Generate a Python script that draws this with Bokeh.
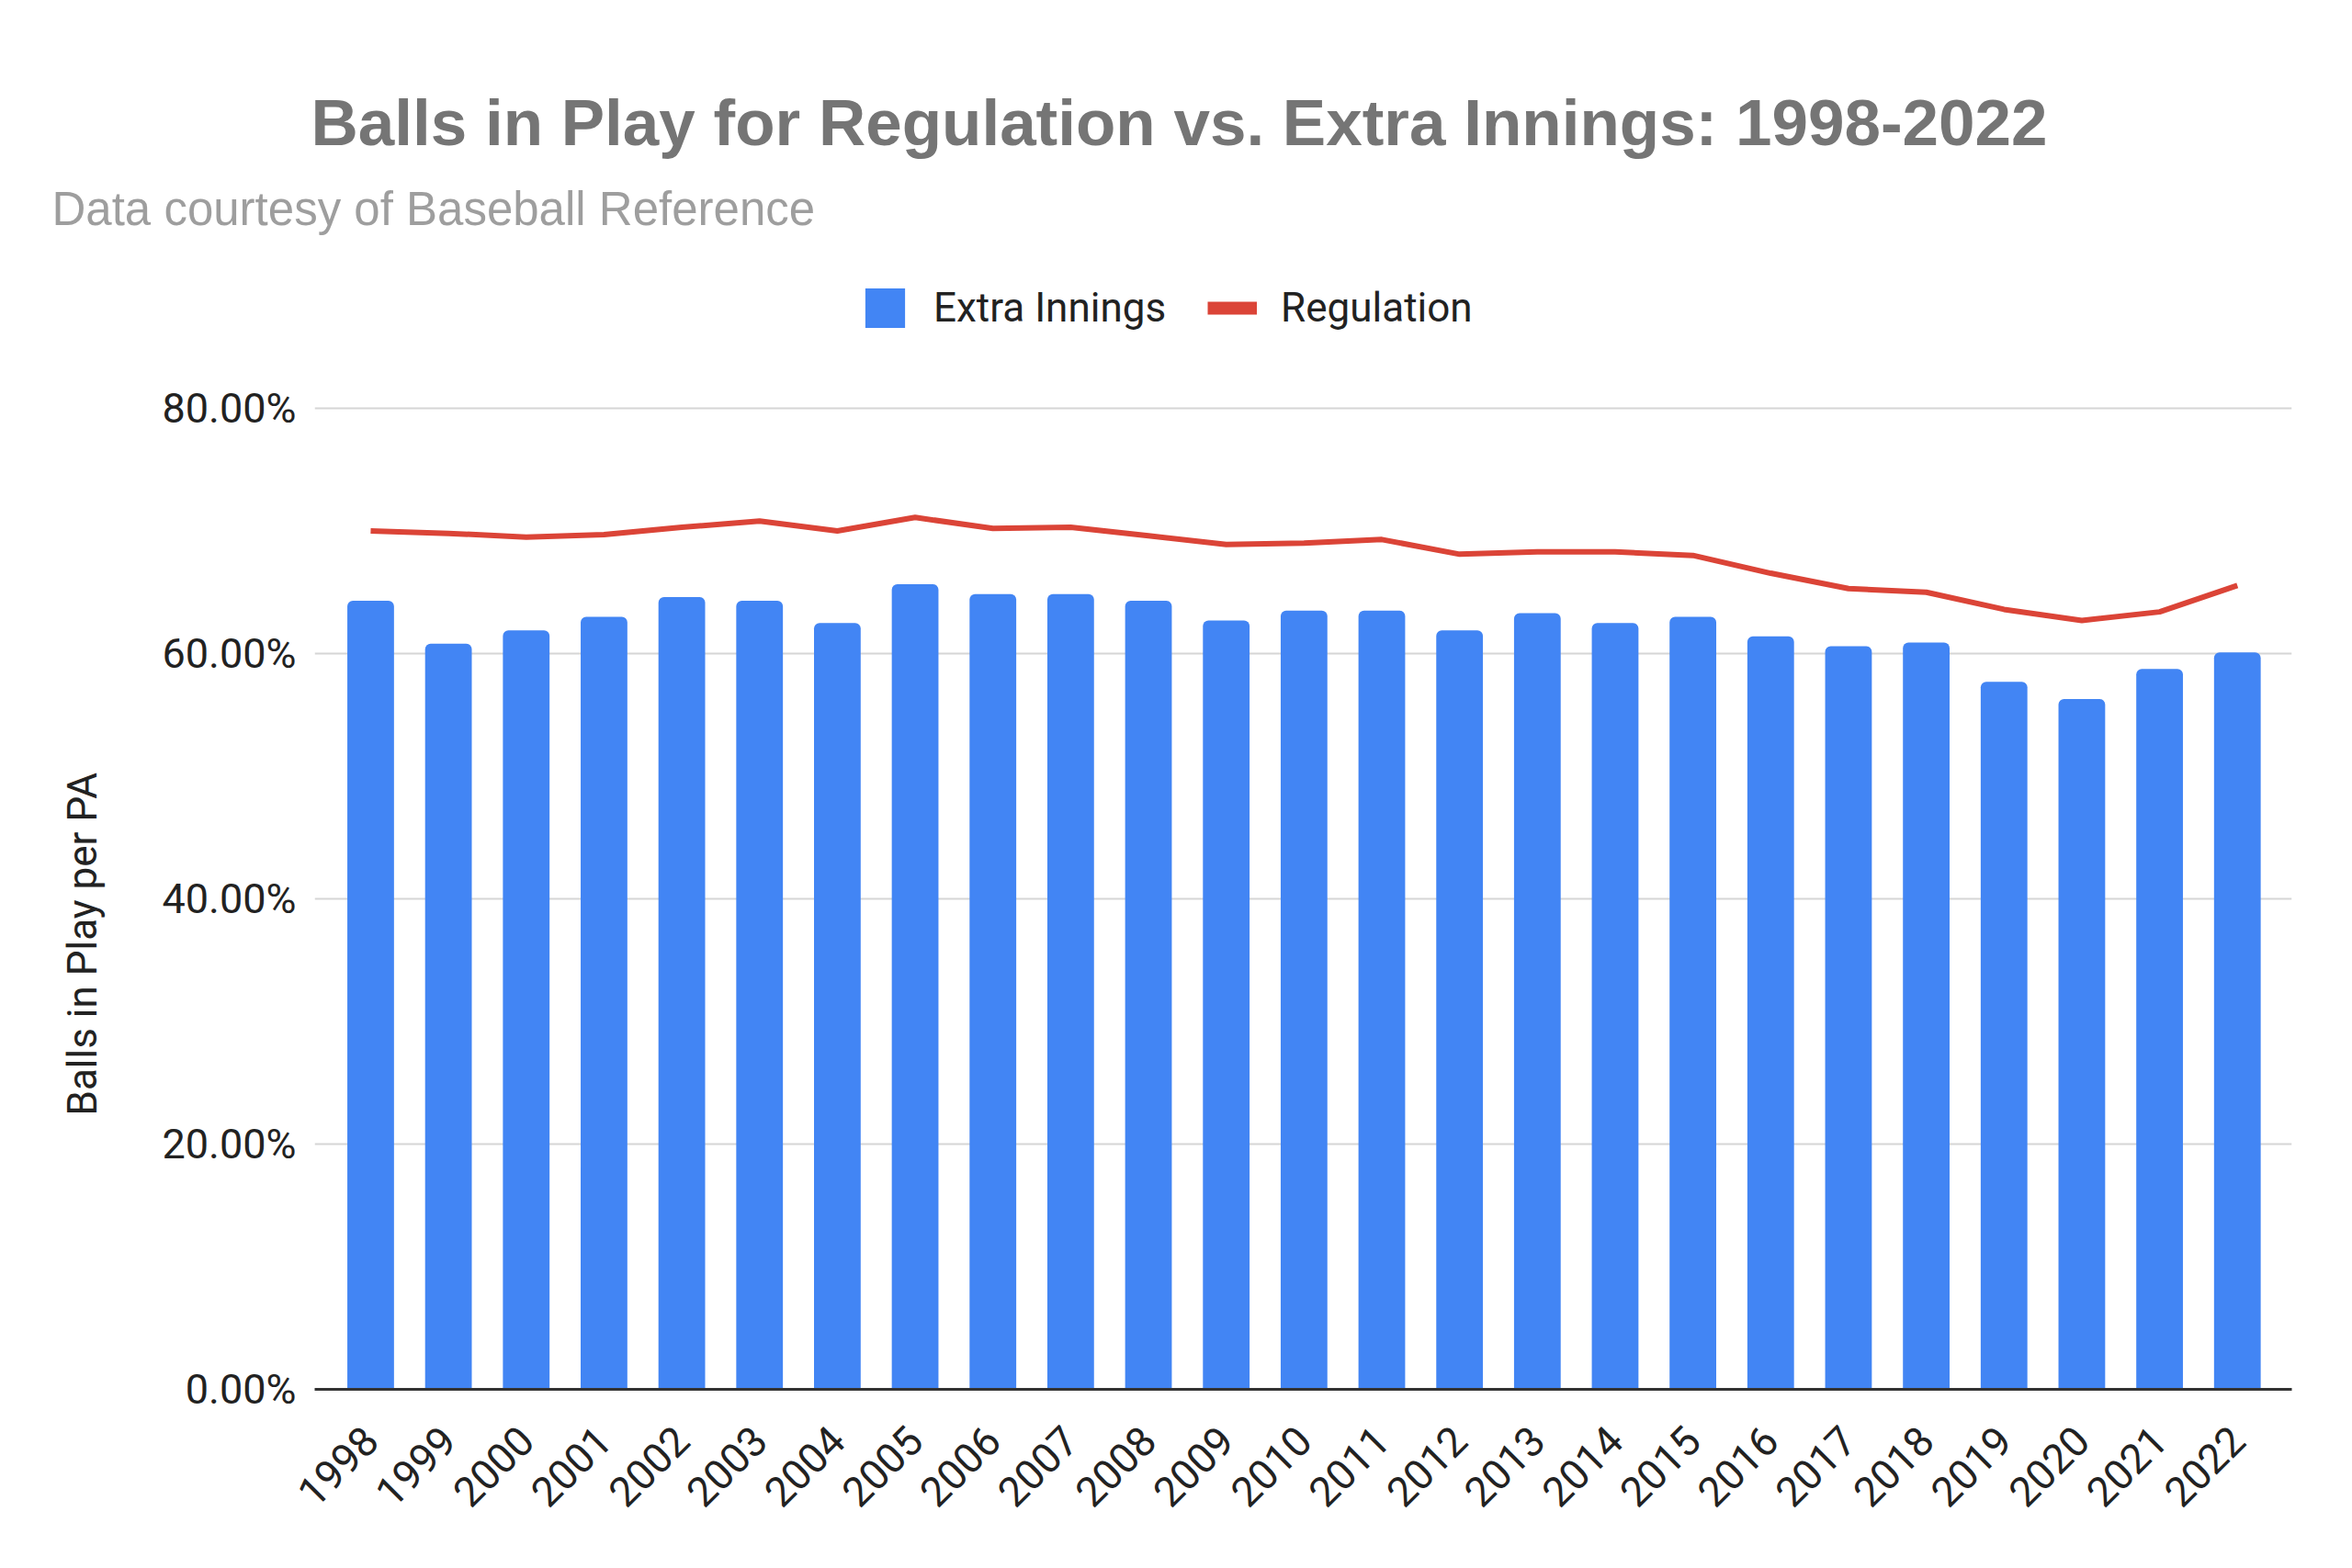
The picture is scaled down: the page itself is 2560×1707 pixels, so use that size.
import numpy as np
from bokeh.plotting import figure
from bokeh.models import (Range1d, FixedTicker, NumeralTickFormatter, Title,
                          Legend, LegendItem, ColumnDataSource)
from bokeh.embed import file_html
from bokeh.resources import INLINE

# data (percent of PAs ending in a ball in play)
years = list(range(1998, 2023))
extra_innings = [64.3, 60.8, 61.9, 63.0, 64.6, 64.3, 62.5, 65.65, 64.85, 64.85,
                 64.3, 62.7, 63.5, 63.5, 61.9, 63.3, 62.5, 63.0, 61.4, 60.6,
                 60.9, 57.7, 56.3, 58.75, 60.1]
regulation = [70.0, 69.8, 69.5, 69.7, 70.3, 70.8, 70.0, 71.1, 70.2, 70.3,
              69.6, 68.9, 69.0, 69.3, 68.1, 68.3, 68.3, 68.0, 66.55, 65.3,
              65.0, 63.6, 62.7, 63.4, 65.55]
y_ticks = [0.0, 0.2, 0.4, 0.6, 0.8]

src = ColumnDataSource(data=dict(
    year=years,
    extra=np.array(extra_innings) / 100,
    reg=np.array(regulation) / 100,
))

W, H = 2544, 1691
FL, FR, FT, FB = 342, 2494, 262, 1512   # frame edges in canvas px
TOP80 = 444                              # where the 80% grid line sits
y_end = 0.8 * (FB - FT) / (FB - TOP80)   # frame reaches up to hold the legend

p = figure(width=W, height=H, output_backend="svg", toolbar_location=None,
           x_range=Range1d(years[0] - 0.72, years[-1] + 0.7),
           y_range=Range1d(0, y_end),
           min_border_left=FL, min_border_right=W - FR,
           min_border_top=FT, min_border_bottom=H - FB)
p.outline_line_color = None
p.background_fill_color = "white"

bars = p.vbar(x="year", top="extra", width=0.6, bottom=0, source=src,
              fill_color="#4285F4", line_color=None,
              border_radius=(6, 6, 0, 0))
line = p.line(x="year", y="reg", source=src, line_color="#DB4437",
              line_width=6, line_join="round")
# legend swatch for the line (short thick bar, as in the original)
proxy = p.line(x=[years[0]], y=[np.nan], line_color="#DB4437", line_width=14)

# axes
p.xaxis.ticker = FixedTicker(ticks=years)
p.xaxis.major_label_orientation = np.pi / 4
p.xaxis.major_label_text_font = "Roboto"
p.xaxis.major_label_text_font_size = "45px"
p.xaxis.major_label_text_color = "#222222"
p.xaxis.major_label_standoff = 42
p.xaxis.major_tick_line_color = None
p.xaxis.minor_tick_line_color = None
p.xaxis.axis_line_color = "#333333"
p.xaxis.axis_line_width = 3

p.yaxis.ticker = FixedTicker(ticks=y_ticks)
p.yaxis.formatter = NumeralTickFormatter(format="0.00%")
p.yaxis.major_label_text_font = "Roboto"
p.yaxis.major_label_text_font_size = "45px"
p.yaxis.major_label_text_color = "#222222"
p.yaxis.major_label_standoff = 20
p.yaxis.major_tick_out = 0
p.yaxis.major_tick_line_color = None
p.yaxis.minor_tick_line_color = None
p.yaxis.axis_line_color = None

p.xgrid.grid_line_color = None
p.ygrid.grid_line_color = "#d6d6d6"
p.ygrid.grid_line_width = 2

# y axis title, placed outside the tick labels
p.add_layout(Title(text="Balls in Play per PA", align="left",
                   offset=FB - 1214, standoff=116, vertical_align="bottom",
                   text_font="Roboto", text_font_style="normal",
                   text_font_size="44px", text_color="#222222"), "left")

# subtitle first (closest to the plot), then the title above it
p.add_layout(Title(text="Data courtesy of Baseball Reference",
                   align="left", offset=56 - FL, standoff=14,
                   vertical_align="bottom",
                   text_font="Liberation Sans", text_font_style="normal",
                   text_font_size="51px", text_color="#9e9e9e"), "above")
p.add_layout(Title(text="Balls in Play for Regulation vs. Extra Innings: 1998-2022",
                   align="left", offset=338 - FL, standoff=34,
                   vertical_align="bottom",
                   text_font="Liberation Sans", text_font_style="bold",
                   text_font_size="71px", text_color="#757575"), "above")

legend = Legend(items=[LegendItem(label="Extra Innings", renderers=[bars]),
                       LegendItem(label="Regulation", renderers=[proxy])],
                location=(936 - FL, FB - 362), orientation="horizontal",
                glyph_width=54, glyph_height=54, label_standoff=26,
                spacing=45, padding=0, margin=0,
                border_line_color=None, background_fill_alpha=0,
                label_text_font="Roboto", label_text_font_size="44px",
                label_text_color="#222222")
p.add_layout(legend, "center")

open("out.html", "w").write(file_html(p, INLINE))
